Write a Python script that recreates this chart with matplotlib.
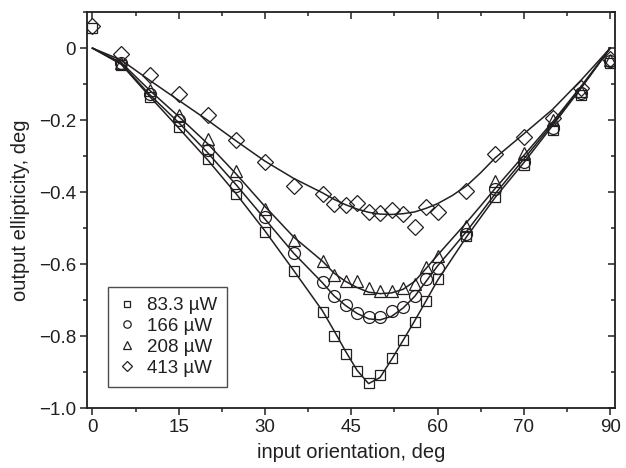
import matplotlib
matplotlib.use("Agg")
import matplotlib.pyplot as plt
from matplotlib.lines import Line2D
from matplotlib.ticker import FixedLocator, MultipleLocator

plt.rcParams['font.family'] = ['Liberation Sans', 'DejaVu Sans']

# measured input orientation (deg)
x_meas = [0, 5, 10, 15, 20, 25, 30, 35, 40, 42, 44, 46, 48, 50, 52, 54, 56, 58, 60,
          65, 70, 75, 80, 85, 90]

# output ellipticity (deg), measured
y_83 = [0.055, -0.047, -0.136, -0.219, -0.307, -0.405, -0.512, -0.620, -0.732, -0.800,
        -0.849, -0.897, -0.930, -0.908, -0.860, -0.811, -0.762, -0.702, -0.641,
        -0.521, -0.414, -0.325, -0.227, -0.130, -0.040]
y_166 = [None, -0.042, -0.126, -0.200, -0.284, -0.384, -0.470, -0.570, -0.651, -0.688,
         -0.713, -0.735, -0.748, -0.748, -0.730, -0.719, -0.688, -0.641, -0.612,
         -0.516, -0.390, -0.315, -0.221, -0.124, -0.037]
y_208 = [None, -0.041, -0.115, -0.185, -0.252, -0.342, -0.447, -0.533, -0.591, -0.630,
         -0.646, -0.646, -0.667, -0.674, -0.674, -0.667, -0.655, -0.609, -0.577,
         -0.493, -0.370, -0.291, -0.200, -0.120, -0.033]
y_413 = [0.061, -0.017, -0.075, -0.126, -0.187, -0.254, -0.316, -0.384, -0.405, -0.433,
         -0.435, -0.431, -0.456, -0.459, -0.451, -0.462, -0.498, -0.440, -0.456,
         -0.396, -0.294, -0.247, -0.194, -0.112, -0.029]

# fitted curves (deg), read at these orientations
x_fit = [0, 5, 10, 15, 20, 25, 30, 35, 40, 42, 44, 46, 48, 50, 52, 54, 56, 58, 60,
         62.5, 65, 67.5, 70, 75, 80, 85, 90]
fit_83 = [0, -0.045, -0.135, -0.222, -0.310, -0.405, -0.508, -0.618, -0.730, -0.785,
          -0.842, -0.895, -0.932, -0.915, -0.865, -0.812, -0.758, -0.702, -0.645,
          -0.585, -0.525, -0.470, -0.415, -0.318, -0.215, -0.110, 0]
fit_166 = [0, -0.043, -0.130, -0.207, -0.290, -0.380, -0.475, -0.570, -0.652, -0.688,
           -0.715, -0.737, -0.752, -0.755, -0.745, -0.722, -0.690, -0.648, -0.605,
           -0.558, -0.510, -0.458, -0.405, -0.308, -0.210, -0.108, 0]
fit_208 = [0, -0.040, -0.118, -0.190, -0.265, -0.350, -0.440, -0.525, -0.592, -0.625,
           -0.648, -0.665, -0.678, -0.682, -0.680, -0.670, -0.648, -0.612, -0.575,
           -0.530, -0.485, -0.438, -0.390, -0.298, -0.205, -0.105, 0]
fit_413 = [0, -0.033, -0.090, -0.145, -0.200, -0.258, -0.314, -0.362, -0.402, -0.420,
           -0.435, -0.447, -0.456, -0.461, -0.462, -0.460, -0.455, -0.445, -0.432,
           -0.410, -0.383, -0.346, -0.305, -0.238, -0.170, -0.088, 0]

labels = ['83.3 \u00b5W', '166 \u00b5W', '208 \u00b5W', '413 \u00b5W']
x_ticks = [0, 15, 30, 45, 60, 75, 90]
x_ticklabels = ['0', '15', '30', '45', '60', '70', '90']
y_ticks = [0, -0.2, -0.4, -0.6, -0.8, -1.0]
y_ticklabels = ['0', '\u22120.2', '\u22120.4', '\u22120.6', '\u22120.8', '\u22121.0']

ink = '#231f20'

fig = plt.figure(figsize=(6.26, 4.68), dpi=100)
ax = fig.add_axes([0.139, 0.128, 0.843, 0.846])

series = [(y_83, fit_83, 's', 7.8), (y_166, fit_166, 'o', 8.6),
          (y_208, fit_208, '^', 9.2), (y_413, fit_413, 'D', 8.0)]
handles = []
for (ys, fit, mk, ms), lab in zip(series, labels):
    ax.plot(x_fit, fit, '-', color=ink, lw=1.1, zorder=2)
    xs = [x for x, y in zip(x_meas, ys) if y is not None]
    yv = [y for y in ys if y is not None]
    ax.plot(xs, yv, linestyle='none', marker=mk, ms=ms, mfc='none', mec=ink,
            mew=0.9, zorder=3)
    handles.append(Line2D([], [], linestyle='none', marker=mk,
                          ms=ms * 0.62,
                          mfc='none', mec=ink, mew=0.9, label=lab))

ax.set_xlim(-0.95, 90.8)
ax.set_ylim(-1.0, 0.1)

ax.xaxis.set_major_locator(FixedLocator(x_ticks))
ax.set_xticklabels(x_ticklabels)
ax.xaxis.set_minor_locator(MultipleLocator(7.5))
ax.yaxis.set_major_locator(FixedLocator(y_ticks))
ax.set_yticklabels(y_ticklabels)
ax.yaxis.set_minor_locator(MultipleLocator(0.1))

ax.tick_params(which='both', direction='out', top=True, right=True,
               labelsize=13.5, colors=ink, width=1.1, pad=3)
ax.tick_params(which='major', length=5)
ax.tick_params(which='minor', length=3)
# top/right ticks point inward
for tick in ax.xaxis.get_major_ticks() + ax.xaxis.get_minor_ticks():
    tick.tick2line.set_marker(3)
for tick in ax.yaxis.get_major_ticks() + ax.yaxis.get_minor_ticks():
    tick.tick2line.set_marker(0)

for sp in ax.spines.values():
    sp.set_linewidth(1.3)
    sp.set_color(ink)

ax.set_xlabel('input orientation, deg', fontsize=14.5, color=ink, labelpad=5)
ax.set_ylabel('output ellipticity, deg', fontsize=14.5, color=ink, labelpad=6)

leg = ax.legend(handles=handles, loc='lower left', bbox_to_anchor=(0.04, 0.053),
                borderaxespad=0, frameon=True, fancybox=False, fontsize=13.5,
                handlelength=0.9, handletextpad=0.6, labelspacing=0.2,
                borderpad=0.55)
leg.get_frame().set_edgecolor(ink)
leg.get_frame().set_linewidth(1.0)
for t in leg.get_texts():
    t.set_color(ink)

fig.savefig('out.png', dpi=100)
